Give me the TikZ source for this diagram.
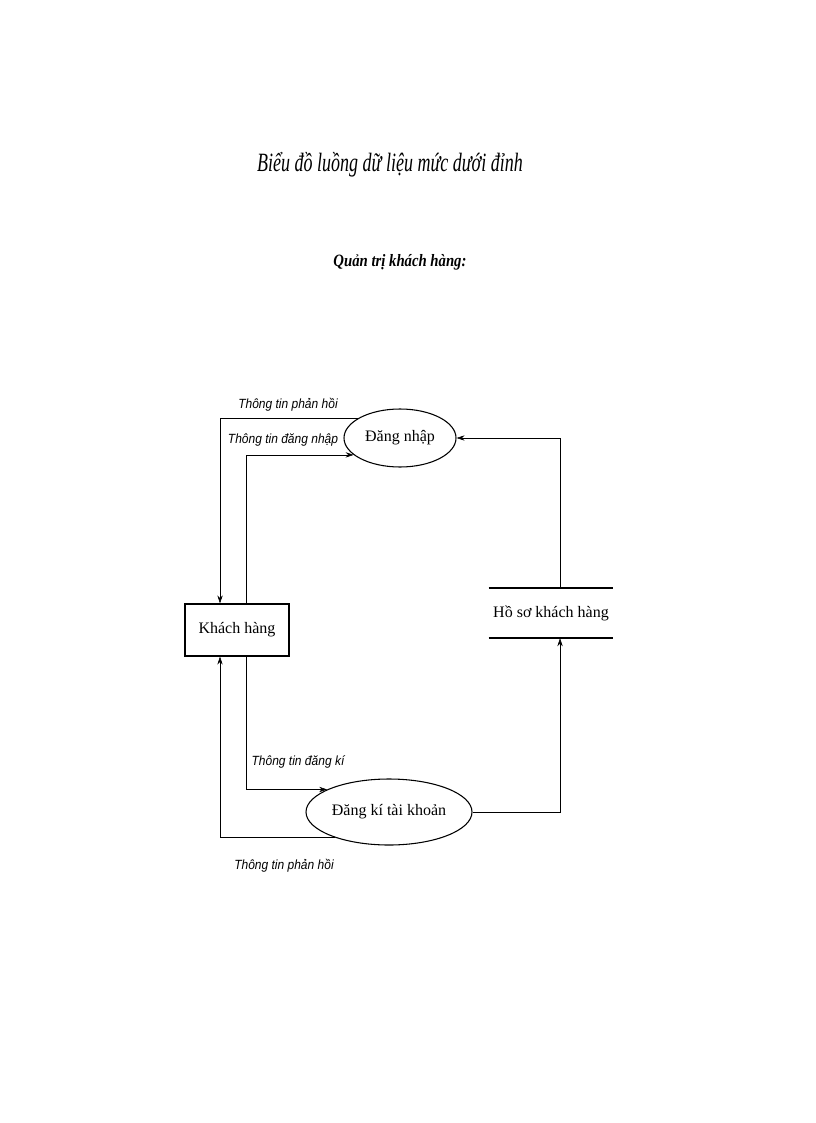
\documentclass[tikz,border=0pt]{standalone}
\usepackage{fontspec}
\setmainfont{Liberation Serif}
\newfontfamily\labelfont{Liberation Sans}
\usetikzlibrary{shapes.geometric,arrows.meta,calc}

\begin{document}
\begin{tikzpicture}[x=0.75pt,y=-0.75pt]
	\tikzset{
		process/.style = {ellipse, draw, thick, inner sep=0pt, font=\fontsize{12}{14}\selectfont},
		flow/.style = {-{Stealth[length=6pt,width=4pt]}},
		flowlabel/.style = {font=\labelfont\itshape\fontsize{10}{12}\selectfont}
	}

	\useasboundingbox (0, 0) rectangle (816, 1123);

	\node[font=\itshape\fontsize{18}{20}\selectfont] (title) at (390, 165) {\scalebox{0.75}[1.1]{Biểu đồ luồng dữ liệu mức dưới đỉnh}};
	\node[font=\bfseries\itshape\fontsize{13}{15}\selectfont] (sub) at (400, 262) {\scalebox{0.85}[1]{Quản trị khách hàng:}};

	\node[process, minimum width=112*0.75pt, minimum height=58*0.75pt] (dn) at (400, 438) {Đăng nhập};
	\node[process, minimum width=166*0.75pt, minimum height=66*0.75pt] (dk) at (389, 812) {Đăng kí tài khoản};
	\node[draw, thick, font=\fontsize{12}{14}\selectfont, minimum width=104*0.75pt, minimum height=52*0.75pt] (kh) at (237, 630) {Khách hàng};
	\node[font=\fontsize{12}{14}\selectfont, minimum width=104*0.75pt, minimum height=50*0.75pt] (hs) at (551, 613) {Hồ sơ khách hàng};
	\draw[very thick] (hs.north west) -- (hs.north east);
	\draw[very thick] (hs.south west) -- (hs.south east);

	% luong dang nhap
	\draw[flow] (dn.155) -| ($(kh.north) + (-17, 0)$);
	\draw[flow] ($(kh.north) + (9, 0)$) |- (dn.200);
	\node[flowlabel] (l1) at (288, 405) {\scalebox{0.9}[1]{Thông tin phản hồi}};
	\node[flowlabel] (l2) at (283, 440) {\scalebox{0.9}[1]{Thông tin đăng nhập}};

	% luong dang ki
	\draw[flow] ($(kh.south) + (9, 0)$) |- (dk.160);
	\draw[flow] (dk.205) -| ($(kh.south) + (-17, 0)$);
	\node[flowlabel] (l3) at (298, 762) {\scalebox{0.9}[1]{Thông tin đăng kí}};
	\node[flowlabel] (l4) at (284, 866) {\scalebox{0.9}[1]{Thông tin phản hồi}};

	% luong ho so
	\draw[flow] (dk.east) -| ($(hs.south) + (9, 0)$);
	\draw[flow] ($(hs.north) + (9, 0)$) |- (dn.east);
\end{tikzpicture}
\end{document}
